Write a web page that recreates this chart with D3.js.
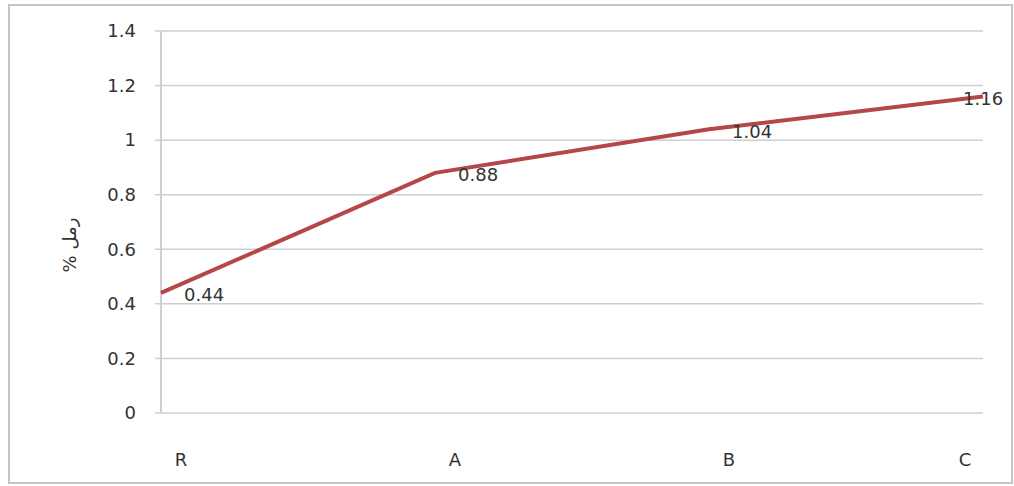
<!DOCTYPE html>
<html>
<head>
<meta charset="utf-8">
<script src="https://cdn.jsdelivr.net/npm/d3@7"></script>
<style>
  body { margin: 0; background: #fff; }
  svg { display: block; font-family: "DejaVu Sans", Verdana, sans-serif; }
</style>
</head>
<body>
<svg id="chart" width="1014" height="486"></svg>
<script>
const categories = ['R', 'A', 'B', 'C'];
const values = [0.44, 0.88, 1.04, 1.16];
const yTicks = [0, 0.2, 0.4, 0.6, 0.8, 1, 1.2, 1.4];
const yLabel = 'رمل %';

const svg = d3.select('#chart');
const margin = { top: 31, right: 31, bottom: 73, left: 161 };
const width = 1014 - margin.left - margin.right;
const height = 486 - margin.top - margin.bottom;

// outer frame
svg.append('rect')
  .attr('x', 9).attr('y', 5)
  .attr('width', 1003).attr('height', 478)
  .attr('fill', 'none')
  .attr('stroke', '#c4c4c4')
  .attr('stroke-width', 2);

const g = svg.append('g').attr('transform', `translate(${margin.left},${margin.top})`);

const x = d3.scalePoint().domain(categories).range([0, width]);
const y = d3.scaleLinear().domain([0, 1.4]).range([height, 0]);

// grid + tick marks
g.selectAll('.grid')
  .data(yTicks)
  .enter()
  .append('line')
  .attr('x1', -6)
  .attr('x2', width)
  .attr('y1', d => y(d))
  .attr('y2', d => y(d))
  .attr('stroke', '#cfcfcf')
  .attr('stroke-width', 1.5);

// y axis line
g.append('line')
  .attr('x1', 0).attr('x2', 0)
  .attr('y1', 0).attr('y2', height)
  .attr('stroke', '#cfcfcf')
  .attr('stroke-width', 2);

const fs = 18;

// y tick labels
g.selectAll('.ytick')
  .data(yTicks)
  .enter()
  .append('text')
  .attr('x', -25)
  .attr('y', d => y(d))
  .attr('dy', '0.35em')
  .attr('text-anchor', 'end')
  .attr('font-size', fs)
  .attr('fill', '#333')
  .text(d => d);

// x tick labels
g.selectAll('.xtick')
  .data(categories)
  .enter()
  .append('text')
  .attr('x', d => Math.min(x(d) + 20, width - 18))
  .attr('y', height + 47)
  .attr('dy', '0.35em')
  .attr('text-anchor', 'middle')
  .attr('font-size', fs)
  .attr('fill', '#333')
  .text(d => d);

// y label
svg.append('text')
  .attr('transform', 'translate(70,245) rotate(-90)')
  .attr('text-anchor', 'middle')
  .attr('dy', '0.35em')
  .attr('font-size', fs)
  .attr('fill', '#333')
  .attr('direction', 'rtl')
  .text(yLabel);

const data = categories.map((c, i) => ({ cat: c, value: values[i] }));

const line = d3.line()
  .x(d => x(d.cat))
  .y(d => y(d.value));

g.append('path')
  .datum(data)
  .attr('d', line)
  .attr('fill', 'none')
  .attr('stroke', '#b5474a')
  .attr('stroke-width', 4);

// data labels
g.selectAll('.dlabel')
  .data(data)
  .enter()
  .append('text')
  .attr('x', (d, i) => i === data.length - 1 ? x(d.cat) - 20 : x(d.cat) + 23)
  .attr('y', d => y(d.value) + 2)
  .attr('dy', '0.35em')
  .attr('font-size', fs)
  .attr('fill', '#333')
  .text(d => d.value.toFixed(2));
</script>
</body>
</html>
